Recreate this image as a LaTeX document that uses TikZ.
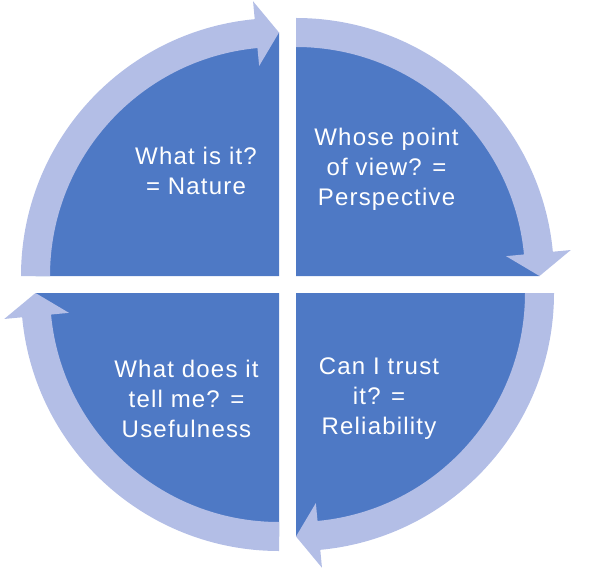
\documentclass[tikz,border=0pt]{standalone}
\usepackage{fontspec}
\setmainfont{Liberation Sans}[LetterSpace=5]
\usepackage{tikz}
\definecolor{quadblue}{RGB}{78,121,197}
\definecolor{ringblue}{RGB}{179,190,230}

\begin{document}
\begin{tikzpicture}[x=0.75pt, y=0.75pt,
    quad/.style={fill=quadblue},
    ring/.style={fill=ringblue},
    quadtext/.style={text=white, align=center, inner sep=0pt, font=\fontsize{18}{22.5}\selectfont}]

    \useasboundingbox (0,0) rectangle (592,572);

    % corners of the four quarters
    \coordinate (tl) at (279,296);
    \coordinate (tr) at (296,296);
    \coordinate (br) at (296,279);
    \coordinate (bl) at (279,279);

    % quarter discs
    \foreach \c/\s in {tl/180, tr/90, br/0, bl/-90} {
      \fill[quad] (\c) -- ++(\s:243.5) arc[start angle=\s, delta angle=-90, radius=243.5] -- cycle;
    }

    % curved arrows round the outside
    \foreach \c/\s in {tl/180, tr/90, br/0, bl/-90} {
      \begin{scope}[shift={(\c)}]
        \fill[ring] (\s:258) arc[start angle=\s, delta angle=-84.6, radius=258]
          -- ({\s-84.6}:276) -- ({\s-90}:243.5) -- ({\s-84.6}:211) -- ({\s-84.6}:229)
          arc[start angle={\s-84.6}, delta angle=84.6, radius=229] -- cycle;
      \end{scope}
    }

    \node[quadtext] (nature) at (196,401) {What is it?\\= Nature};
    \node[quadtext] (perspective) at (386.5,403) {Whose point\\of view? =\\Perspective};
    \node[quadtext] (reliability) at (379,173) {Can I trust\\it? =\\Reliability};
    \node[quadtext] (usefulness) at (186.5,173) {What does it\\tell me? =\\Usefulness};
  \end{tikzpicture}
\end{document}
